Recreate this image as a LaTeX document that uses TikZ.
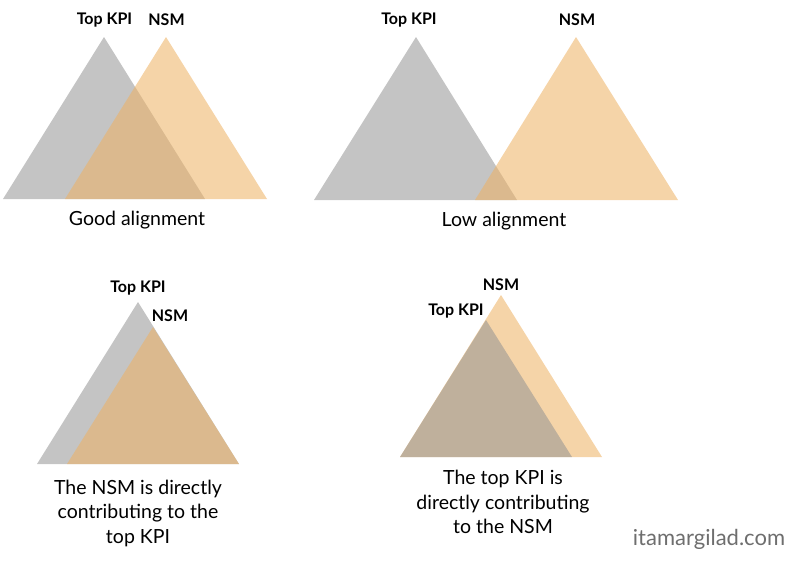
\documentclass[tikz,border=0pt]{standalone}
\usepackage{fontspec}
\setmainfont{Lato}
\usetikzlibrary{positioning}

\definecolor{kpigray}{RGB}{146,146,146}
\definecolor{nsmorange}{RGB}{237,177,97}
\definecolor{credit}{RGB}{110,110,110}

\begin{document}
\begin{tikzpicture}[
    x=1pt, y=-1pt,
    kpi/.style={fill=kpigray, fill opacity=0.54},
    nsm/.style={fill=nsmorange, fill opacity=0.55},
    tag/.style={font=\fontsize{16}{18}\selectfont\bfseries, inner sep=0pt},
    caption/.style={font=\fontsize{19.5}{24.5}\selectfont, align=center, inner sep=0pt}
]
\useasboundingbox (0,0) rectangle (800,560);

% Good alignment
\fill[kpi] (3,199) -- (104,37) -- (205,199) -- cycle;
\fill[nsm] (65,199) -- (166,37) -- (267,199) -- cycle;
\node[tag] (kpiA) at (104.5,20) {Top KPI};
\node[tag] (nsmA) at (166.5,20) {NSM};
\node[caption] (good) at (137,220) {Good alignment};

% Low alignment
\fill[kpi] (314,200) -- (416,37) -- (517,200) -- cycle;
\fill[nsm] (475,200) -- (576,37) -- (678,200) -- cycle;
\node[tag] (kpiB) at (409,20) {Top KPI};
\node[tag] (nsmB) at (577,20) {NSM};
\node[caption] (low) at (504,221) {Low alignment};

% NSM inside the top KPI
\fill[kpi] (37,464) -- (138,302) -- (239,464) -- cycle;
\fill[nsm] (67,464) -- (153,327) -- (239,464) -- cycle;
\node[tag] (kpiC) at (138,288) {Top KPI};
\node[tag] (nsmC) at (170,316) {NSM};
\node[caption] (nsmtokpi) at (138,513) {The NSM is directly\\contributing to the\\top KPI};

% Top KPI inside the NSM
\fill[nsm] (400,457) -- (501,295) -- (602,457) -- cycle;
\fill[kpi] (400,457) -- (486,320) -- (572,457) -- cycle;
\node[tag] (nsmD) at (501,285) {NSM};
\node[tag] (kpiD) at (456,311) {Top KPI};
\node[caption] (kpitonsm) at (503,502) {The top KPI is\\directly contributing\\to the NSM};

% Credit
\node[font=\fontsize{22}{26}\selectfont, text=credit, inner sep=0pt] (site) at (709,539) {itamargilad.com};
\end{tikzpicture}
\end{document}
